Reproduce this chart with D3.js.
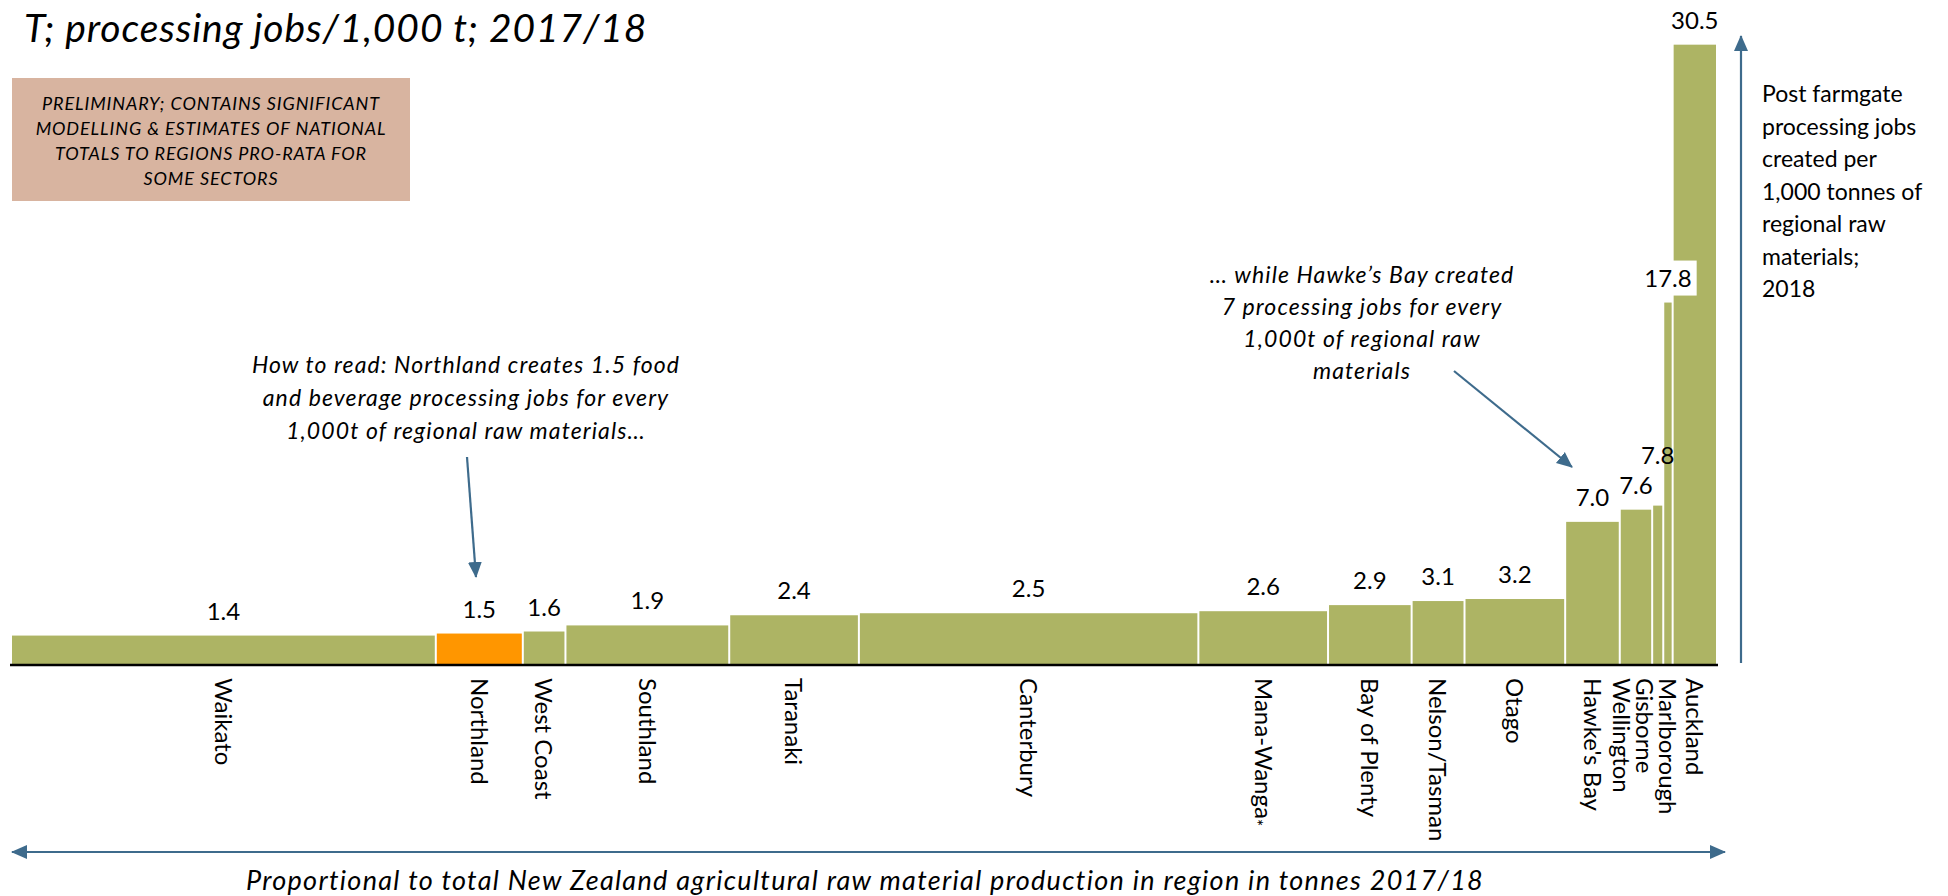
<!DOCTYPE html>
<html>
<head>
<meta charset="utf-8">
<script src="https://cdn.jsdelivr.net/npm/d3@7"></script>
<style>
  body { margin: 0; background: #fff; }
  text { font-family: Lato, "Noto Sans", sans-serif; fill: #000; }
</style>
</head>
<body>
<svg id="chart" width="1948" height="896"></svg>
<script>
// regions, in the order they sit along the axis
var regions = ["Waikato", "Northland", "West Coast", "Southland", "Taranaki", "Canterbury", "Mana-Wanga",
  "Bay of Plenty", "Nelson/Tasman", "Otago", "Hawke's Bay", "Wellington", "Gisborne", "Marlborough", "Auckland"];
// share of national raw material tonnes (%), sets the bar width
var tonnesShare = [24.9, 5.1, 2.5, 9.6, 7.6, 19.9, 7.6, 4.9, 3.1, 5.9, 3.2, 1.9, 0.65, 0.55, 2.6];
// processing jobs per 1,000 t, sets the bar height
var jobsPer1000t = [1.4, 1.5, 1.6, 1.9, 2.4, 2.5, 2.6, 2.9, 3.1, 3.2, 7.0, 7.6, 7.8, 17.8, 30.5];
var highlight = "Northland";
var footnoted = "Mana-Wanga";

var title = "T; processing jobs/1,000 t; 2017/18";
var caveatLines = ["PRELIMINARY; CONTAINS SIGNIFICANT", "MODELLING & ESTIMATES OF NATIONAL",
  "TOTALS TO REGIONS PRO-RATA FOR", "SOME SECTORS"];
var noteLeft = ["How to read: Northland creates 1.5 food", "and beverage processing jobs for every",
  "1,000t of regional raw materials\u2026"];
var noteRight = ["\u2026 while Hawke\u2019s Bay created", "7 processing jobs for every",
  "1,000t of regional raw", "materials"];
var yAxisLines = ["Post farmgate", "processing jobs", "created per", "1,000 tonnes of",
  "regional raw", "materials;", "2018"];
var xAxisTitle = "Proportional to total New Zealand agricultural raw material production in region in tonnes 2017/18";

var olive = "#adb464", orange = "#ff9600", arrowBlue = "#3e6b8c";

var svg = d3.select("#chart");

// build cumulative positions
var rows = [];
var cum = 0;
for (var i = 0; i < regions.length; i++) {
  rows.push({name: regions[i], share: tonnesShare[i], val: jobsPer1000t[i], x0: cum});
  cum += tonnesShare[i];
}

var x = d3.scaleLinear().domain([0, cum]).range([12, 1718]);
var y = d3.scaleLinear().domain([0, 32.7]).range([664, 0]);

// arrow heads
var defs = svg.append("defs");
defs.append("marker").attr("id", "head").attr("markerUnits", "userSpaceOnUse")
  .attr("viewBox", "0 0 16 16").attr("refX", 15).attr("refY", 8)
  .attr("markerWidth", 16).attr("markerHeight", 16).attr("orient", "auto-start-reverse")
  .append("path").attr("d", "M0,1 L16,8 L0,15 Z").attr("fill", arrowBlue);

// bars
svg.append("g").selectAll("rect").data(rows).enter().append("rect")
  .attr("x", function(d){ return x(d.x0); })
  .attr("width", function(d){ return Math.max(1, x(d.x0 + d.share) - x(d.x0) - 2); })
  .attr("y", function(d){ return y(d.val); })
  .attr("height", function(d){ return y(0) - y(d.val); })
  .attr("fill", function(d){ return d.name == highlight ? orange : olive; });

// baseline
svg.append("line").attr("x1", 10).attr("x2", 1718).attr("y1", y(0) + 1).attr("y2", y(0) + 1)
  .attr("stroke", "#000").attr("stroke-width", 2.5);

// value labels
var prevBox = null, prevY = 0;
var vl = svg.append("g").selectAll("g").data(rows).enter().append("g");
vl.each(function(d){
  var cx = x(d.x0 + d.share / 2) - 1;
  var ty = y(d.val) - 16;
  var t = d3.select(this).append("text")
    .attr("x", cx).attr("y", ty)
    .attr("text-anchor", "middle").style("font-size", "24px")
    .text(d3.format(".1f")(d.val));
  var b = t.node().getBBox();
  // if it runs into the label on its left, lift it above that one
  if (prevBox && b.x < prevBox.x + prevBox.width && b.y + b.height > prevBox.y) {
    ty = prevY - 30;
    t.attr("y", ty);
    b = t.node().getBBox();
  }
  if (d.val > 10 && d.val < 20) {
    // label sits in front of the tall neighbour; give it a white patch
    d3.select(this).insert("rect", "text").attr("x", b.x - 5).attr("y", b.y - 2)
      .attr("width", b.width + 10).attr("height", b.height + 6).attr("fill", "#fff");
  }
  prevBox = b; prevY = ty;
});

// category labels, pushed apart where bars get thin
var centres = rows.map(function(d){ return x(d.x0 + d.share / 2) - 1; });
var minGap = 23;
for (var j = centres.length - 2; j >= 0; j--) {
  if (centres[j] > centres[j + 1] - minGap) centres[j] = centres[j + 1] - minGap;
}
var cl = svg.append("g").selectAll("text").data(rows).enter().append("text")
  .attr("transform", function(d, k){ return "translate(" + centres[k] + ",678) rotate(90)"; })
  .attr("dy", "0.36em").style("font-size", "24px")
  .text(function(d){ return d.name; });
cl.filter(function(d){ return d.name == footnoted; }).append("tspan")
  .attr("dy", "0.25em").style("font-size", "17px").text("*");

// title
svg.append("text").attr("x", 24).attr("y", 42).style("font-size", "39px").style("font-style", "italic")
  .style("letter-spacing", "0.9px")
  .text(title);

// caveat box
svg.append("rect").attr("x", 12).attr("y", 78).attr("width", 398).attr("height", 123).attr("fill", "#d8b4a0");
svg.append("g").selectAll("text").data(caveatLines).enter().append("text")
  .attr("x", 211).attr("y", function(d, k){ return 110 + k * 25; })
  .attr("text-anchor", "middle").style("font-size", "18px").style("font-style", "italic")
  .style("letter-spacing", "0.9px")
  .text(function(d){ return d; });

// annotation notes
svg.append("g").selectAll("text").data(noteLeft).enter().append("text")
  .attr("x", 466).attr("y", function(d, k){ return 373 + k * 33; })
  .attr("text-anchor", "middle").style("font-size", "23px").style("font-style", "italic")
  .style("letter-spacing", "1.1px")
  .text(function(d){ return d; });
svg.append("g").selectAll("text").data(noteRight).enter().append("text")
  .attr("x", 1362).attr("y", function(d, k){ return 283 + k * 32; })
  .attr("text-anchor", "middle").style("font-size", "23px").style("font-style", "italic")
  .style("letter-spacing", "1.1px")
  .text(function(d){ return d; });

function arrow(x1, y1, x2, y2, both) {
  var l = svg.append("line").attr("x1", x1).attr("y1", y1).attr("x2", x2).attr("y2", y2)
    .attr("stroke", arrowBlue).attr("stroke-width", 2.2).attr("marker-end", "url(#head)");
  if (both) l.attr("marker-start", "url(#head)");
}
// Northland pointer
arrow(467, 457, 476, 577);
// Hawke's Bay pointer
arrow(1454, 371, 1572, 467);
// vertical axis arrow
arrow(1741, 663, 1741, 36);
// horizontal axis arrow
arrow(12, 852, 1725, 852, true);

// vertical axis text
svg.append("g").selectAll("text").data(yAxisLines).enter().append("text")
  .attr("x", 1762).attr("y", function(d, k){ return 102 + k * 32.5; })
  .style("font-size", "23px")
  .text(function(d){ return d; });

// horizontal axis title
svg.append("text").attr("x", 865).attr("y", 890).attr("text-anchor", "middle")
  .style("font-size", "27px").style("font-style", "italic").style("letter-spacing", "1.3px")
  .text(xAxisTitle);
</script>
</body>
</html>
